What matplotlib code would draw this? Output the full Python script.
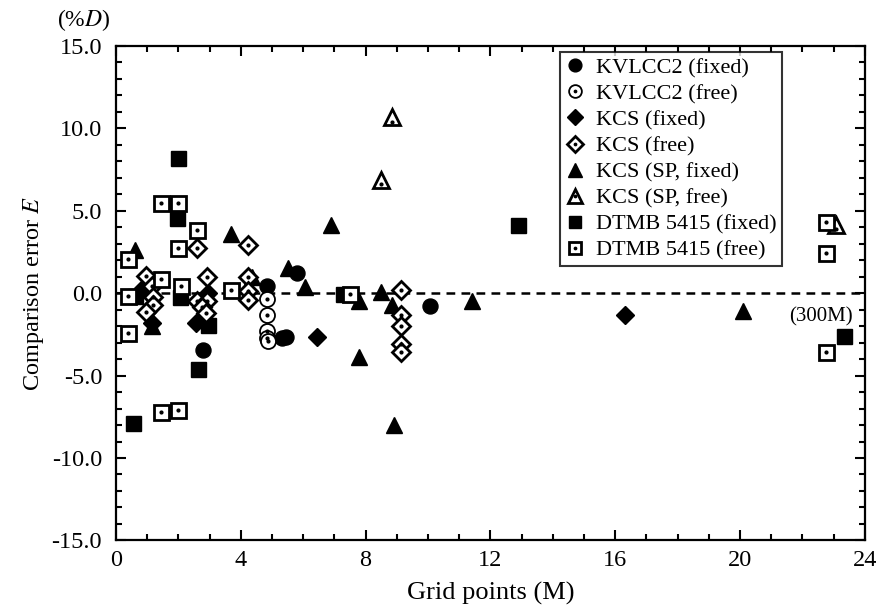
import numpy as np
import matplotlib
matplotlib.use("Agg")
import matplotlib.pyplot as plt
from matplotlib.ticker import MultipleLocator, FormatStrFormatter
from matplotlib.legend_handler import HandlerTuple

plt.rcParams['font.family'] = ['Liberation Serif', 'DejaVu Serif']
plt.rcParams['mathtext.fontset'] = 'stix'
plt.rcParams['axes.unicode_minus'] = False

# values: grid points (M), comparison error E (%D)
kvlcc2_fixed_x = [2.78, 4.85, 5.31, 5.45, 5.8, 10.06]
kvlcc2_fixed_y = [-3.45, 0.45, -2.7, -2.65, 1.2, -0.76]
kvlcc2_free_x = [4.85, 4.85, 4.85, 4.85, 4.87]
kvlcc2_free_y = [-0.35, -1.3, -2.3, -2.75, -2.9]

kcs_fixed_x = [0.88, 1.15, 2.56, 2.94, 6.43, 16.3]
kcs_fixed_y = [0.3, -1.8, -1.8, 0.0, -2.65, -1.3]
kcs_free_x = [0.95, 1.17, 1.2, 1.2, 0.95, 2.6, 2.92, 2.6, 2.92, 2.75, 2.9,
              4.22, 4.22, 4.22, 4.22, 9.15, 9.15, 9.15, 9.15, 9.15]
kcs_free_y = [1.05, 0.45, -0.25, -0.7, -1.15, 2.75, 1.0, -0.45, -0.45, -0.85, -1.2,
              2.9, 0.95, 0.15, -0.4, 0.2, -1.3, -2.0, -3.1, -3.6]

kcs_sp_fixed_x = [0.62, 1.15, 3.7, 4.35, 5.5, 6.07, 6.9, 7.8, 8.5, 8.85, 7.8, 8.9, 11.4, 20.1]
kcs_sp_fixed_y = [2.6, -2.0, 3.6, 1.0, 1.55, 0.4, 4.1, -0.45, 0.05, -0.7, -3.9, -8.0, -0.45, -1.1]
kcs_sp_free_x = [8.86, 8.5, 23.07]
kcs_sp_free_y = [10.65, 6.85, 4.15]

dtmb_fixed_x = [1.98, 1.95, 2.06, 0.62, 0.56, 2.62, 2.94, 7.28, 12.88, 23.32]
dtmb_fixed_y = [8.2, 4.55, -0.25, -0.2, -7.85, -4.6, -1.95, -0.05, 4.1, -2.6]
dtmb_free_x = [0.4, 0.4, 0.4, 1.45, 1.98, 1.45, 1.98, 2.6, 2.1, 3.7, 1.45, 1.98,
               7.5, 22.75, 22.75, 22.75]
dtmb_free_y = [2.05, -0.15, -2.4, 5.45, 5.45, 0.85, 2.75, 3.85, 0.45, 0.2, -7.2, -7.1,
               -0.05, 4.3, 2.45, -3.55]

fig = plt.figure(figsize=(8.78, 6.10), dpi=100)
ax = fig.add_axes([0.132, 0.114, 0.853, 0.811])

ax.axhline(0, color='black', linestyle=(0, (3.5, 2.5)), linewidth=1.8, zorder=1)

ms = 10.8
filled = dict(linestyle='none', color='black', markersize=ms, zorder=3)
opened = dict(linestyle='none', mfc='white', mec='black', mew=2.0, markersize=ms, zorder=4)
dot = dict(linestyle='none', marker='o', color='black', markersize=2, zorder=5)

h1, = ax.plot(kvlcc2_fixed_x, kvlcc2_fixed_y, marker='o', **filled)
h3, = ax.plot(kcs_fixed_x, kcs_fixed_y, marker='D', **dict(filled, markersize=ms * 0.85))
h5, = ax.plot(kcs_sp_fixed_x, kcs_sp_fixed_y, marker='^', **dict(filled, markersize=ms * 1.1))
h7, = ax.plot(dtmb_fixed_x, dtmb_fixed_y, marker='s', **filled)

h2, = ax.plot(kvlcc2_free_x, kvlcc2_free_y, marker='o', **dict(opened, mew=1.3))
d2, = ax.plot(kvlcc2_free_x, kvlcc2_free_y, **dot)
h4, = ax.plot(kcs_free_x, kcs_free_y, marker='D', **dict(opened, markersize=ms * 0.85))
d4, = ax.plot(kcs_free_x, kcs_free_y, **dot)
h6, = ax.plot(kcs_sp_free_x, kcs_sp_free_y, marker='^', **dict(opened, markersize=ms * 1.1))
d6, = ax.plot(kcs_sp_free_x, np.array(kcs_sp_free_y) - 0.25, **dot)
h8, = ax.plot(dtmb_free_x, dtmb_free_y, marker='s', **opened)
d8, = ax.plot(dtmb_free_x, dtmb_free_y, **dot)

labels = ['KVLCC2 (fixed)', 'KVLCC2 (free)', 'KCS (fixed)', 'KCS (free)',
          'KCS (SP, fixed)', 'KCS (SP, free)', 'DTMB 5415 (fixed)', 'DTMB 5415 (free)']
handles = [h1, (h2, d2), h3, (h4, d4), h5, (h6, d6), h7, (h8, d8)]
leg = ax.legend(handles, labels, loc='upper right', bbox_to_anchor=(0.89, 0.9875),
                borderaxespad=0, fontsize=16, frameon=True, fancybox=False,
                edgecolor='black', markerscale=0.85, handlelength=0.9,
                handletextpad=0.5, labelspacing=0.25, borderpad=0.25,
                handler_map={tuple: HandlerTuple(ndivide=1)})
leg.get_frame().set_linewidth(1.5)

ax.text(22.6, -1.45, '(300M)', fontsize=15, ha='center', va='center')

ax.set_xlim(0, 24)
ax.set_ylim(-15, 15)
ax.xaxis.set_major_locator(MultipleLocator(4))
ax.xaxis.set_minor_locator(MultipleLocator(1))
ax.yaxis.set_major_locator(MultipleLocator(5))
ax.yaxis.set_minor_locator(MultipleLocator(1))
ax.yaxis.set_major_formatter(FormatStrFormatter('%.1f'))
ax.tick_params(which='both', direction='in', top=True, right=True, width=1.5, labelsize=17.5)
ax.tick_params(which='major', length=7, pad=7)
ax.tick_params(which='minor', length=4)
ax.tick_params(axis='y', which='major', pad=10)
for s in ax.spines.values():
    s.set_linewidth(1.6)

ax.set_xlabel('Grid points (M)', fontsize=19, labelpad=8)
ax.set_ylabel('Comparison error $E$', fontsize=17.5, labelpad=4)
ax.text(-0.043, 1.052, '(%$D$)', transform=ax.transAxes, fontsize=17, ha='center', va='center')

fig.savefig('out.png', dpi=100)
